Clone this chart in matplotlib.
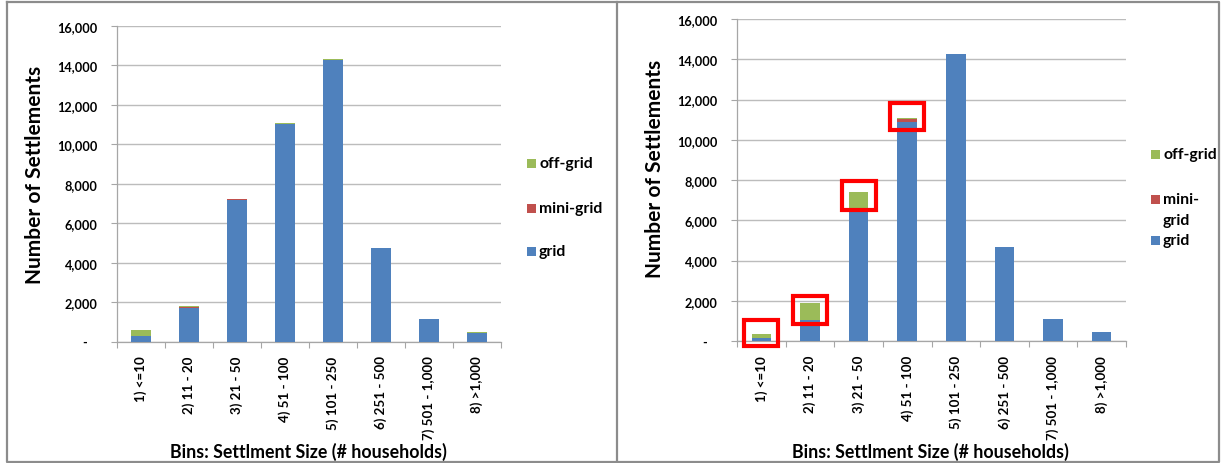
import matplotlib
matplotlib.use("Agg")
import matplotlib.pyplot as plt
from matplotlib.patches import Rectangle
from matplotlib.lines import Line2D
import numpy as np

# ---- data -------------------------------------------------------------
categories = ["1) <=10", "2) 11 - 20", "3) 21 - 50", "4) 51 - 100",
              "5) 101 - 250", "6) 251 - 500", "7) 501 - 1,000", "8) >1,000"]

left_grid = [260, 1700, 7170, 11030, 14260, 4730, 1120, 450]
left_mini = [40, 70, 50, 20, 20, 10, 5, 5]
left_off = [280, 15, 30, 40, 40, 10, 5, 5]

right_grid = [130, 1050, 6480, 10860, 14240, 4680, 1080, 440]
right_mini = [5, 10, 20, 170, 10, 5, 0, 0]
right_off = [200, 840, 920, 60, 30, 10, 5, 5]

y_ticks = [0, 2000, 4000, 6000, 8000, 10000, 12000, 14000, 16000]
y_tick_labels = ["-   ", "2,000", "4,000", "6,000", "8,000", "10,000",
                 "12,000", "14,000", "16,000"]

# highlighted bars on the right chart: (category index, lower, upper)
highlight_boxes = [(0, -235, 1060), (1, 845, 2240), (2, 6517, 7945), (3, 10460, 11840)]

# ---- style ------------------------------------------------------------
C_GRID = "#4F81BD"
C_MINI = "#C0504D"
C_OFF = "#9BBB59"
FONT = ["Lato", "DejaVu Sans"]
plt.rcParams["font.family"] = FONT
plt.rcParams["font.weight"] = "bold"

W, H = 1221, 464
fig = plt.figure(figsize=(W / 100, H / 100), dpi=100)


def fx(x):
    return x / W


def fy(y):
    return 1 - y / H


def make_axes(x0, x1, ytop, ybot):
    return fig.add_axes([fx(x0), fy(ybot), fx(x1 - x0), (ybot - ytop) / H])


def draw_chart(ax, grid, mini, off):
    x = np.arange(len(categories))
    grid = np.array(grid)
    mini = np.array(mini)
    off = np.array(off)
    kw = dict(width=0.40, edgecolor="none", zorder=3)
    ax.bar(x, grid, color=C_GRID, label="grid", **kw)
    ax.bar(x, mini, bottom=grid, color=C_MINI, label="mini-grid", **kw)
    ax.bar(x, off, bottom=grid + mini, color=C_OFF, label="off-grid", **kw)

    ax.set_xlim(-0.5, len(categories) - 0.5)
    ax.set_ylim(0, 16000)
    ax.set_yticks(y_ticks)
    ax.set_yticklabels(y_tick_labels, fontsize=9.2, fontweight="bold")
    ax.yaxis.grid(True, color="#bcbcbc", linewidth=1.0, zorder=0)
    ax.set_axisbelow(True)

    ax.set_xticks(x)
    ax.set_xticklabels(categories, rotation=90, fontsize=9.6, fontweight="bold",
                       va="top", ha="center")
    ax.set_xticks(np.arange(len(categories) + 1) - 0.5, minor=True)
    ax.tick_params(axis="x", which="major", length=0, pad=10)
    ax.tick_params(axis="x", which="minor", length=4, color="#a6a6a6", width=0.8)
    ax.tick_params(axis="y", length=4, color="#a6a6a6", width=0.8, pad=10)

    for s in ("top", "right"):
        ax.spines[s].set_visible(False)
    for s in ("left", "bottom"):
        ax.spines[s].set_color("#a6a6a6")
        ax.spines[s].set_linewidth(0.9)


# ---- left chart -------------------------------------------------------
axL = make_axes(117, 501, 27, 342.5)
draw_chart(axL, left_grid, left_mini, left_off)

# ---- right chart ------------------------------------------------------
axR = make_axes(737, 1126, 20, 342)
draw_chart(axR, right_grid, right_mini, right_off)

for i, lo, hi in highlight_boxes:
    axR.add_patch(Rectangle((i - 0.35, lo), 0.70, hi - lo, fill=False,
                            edgecolor="#FF0000", linewidth=3, zorder=5,
                            clip_on=False))

# ---- axis titles ------------------------------------------------------
xtitle = "Bins: Settlment Size (# households)"
fig.text(fx(308), fy(452), xtitle, ha="center", va="center",
         fontsize=12.8, fontweight="bold")
fig.text(fx(930), fy(452), xtitle, ha="center", va="center",
         fontsize=12.8, fontweight="bold")
fig.text(fx(35), fy(175), "Number of Settlements", rotation=90,
         ha="center", va="center", fontsize=15, fontweight="bold")
fig.text(fx(655), fy(169), "Number of Settlements", rotation=90,
         ha="center", va="center", fontsize=15, fontweight="bold")

# ---- legends ----------------------------------------------------------
LEG_FS = 11.3


def legend_entry(x, y, color, text):
    fig.patches.append(Rectangle((fx(x), fy(y + 4.5)), 9 / W, 9 / H,
                                 transform=fig.transFigure, facecolor=color,
                                 edgecolor="none"))
    fig.text(fx(x + 12), fy(y), text, ha="left", va="center",
             fontsize=LEG_FS, fontweight="bold")


legend_entry(527, 164, C_OFF, "off-grid")
legend_entry(527, 209, C_MINI, "mini-grid")
legend_entry(527, 252, C_GRID, "grid")

legend_entry(1151, 155, C_OFF, "off-grid")
fig.patches.append(Rectangle((fx(1151), fy(204.5)), 9 / W, 9 / H,
                             transform=fig.transFigure, facecolor=C_MINI,
                             edgecolor="none"))
fig.text(fx(1163), fy(200), "mini-", ha="left", va="center",
         fontsize=LEG_FS, fontweight="bold")
fig.text(fx(1163), fy(221), "grid", ha="left", va="center",
         fontsize=LEG_FS, fontweight="bold")
legend_entry(1151, 241, C_GRID, "grid")

# ---- panel frames -----------------------------------------------------
frame_kw = dict(transform=fig.transFigure, color="#8c8c8c", linewidth=1.6)
fig.lines.append(Line2D([fx(7), fx(1219), fx(1219), fx(7), fx(7)],
                        [fy(3), fy(3), fy(463), fy(463), fy(3)], **frame_kw))
fig.lines.append(Line2D([fx(617), fx(617)], [fy(3), fy(463)], **frame_kw))

fig.savefig("out.png", dpi=100, facecolor="white")
